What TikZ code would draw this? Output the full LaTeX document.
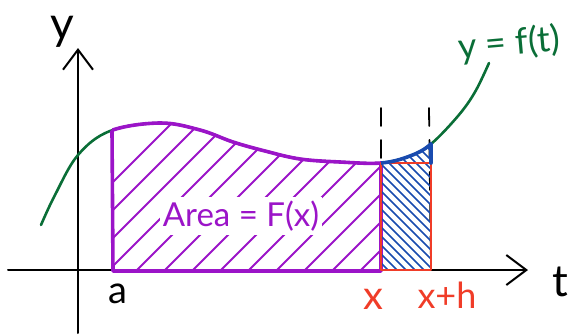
\documentclass[tikz,border=0pt]{standalone}
\usepackage{fontspec}
\setmainfont{Lato}
\usetikzlibrary{arrows.meta}
\definecolor{cgreen}{RGB}{10,110,55}
\definecolor{cpurple}{RGB}{155,20,200}
\definecolor{cblue}{RGB}{25,75,175}
\definecolor{cred}{RGB}{240,60,40}
\begin{document}
\begin{tikzpicture}[x=1pt,y=-1pt,line cap=round,line join=round,
  curve/.style={insert path={plot[smooth,tension=0.6] coordinates {(41,225) (55,195) (78,155) (110,131) (160,123) (200,130) (233,142) (265,151) (300,159) (340,162) (381,163) (410,156) (431,144) (458,116) (475,92) (489,63)}}},
  axis/.style={line width=2pt,black,-{Straight Barb[length=20pt,width=30pt,line width=2pt]}},
  hatchp/.style={cpurple,line width=1.8pt},
  hatchb/.style={cblue,line width=1.6pt},
  dashln/.style={black,line width=1.8pt,dash pattern=on 18pt off 14pt},
  lbl/.style={inner sep=0pt,font=\fontsize{34}{34}\selectfont}]
\useasboundingbox (0,0) rectangle (574,335);
% axes
\coordinate (xs) at (8,270); \coordinate (xe) at (528,270);
\coordinate (ys) at (78,333); \coordinate (ye) at (78,48);
\draw[axis] (xs) -- (xe);
\draw[axis] (ys) -- (ye);
% dashed guides
\coordinate (d1s) at (381,108); \coordinate (d1e) at (381,270);
\coordinate (d2s) at (429,108); \coordinate (d2e) at (431,270);
\draw[dashln] (d1s) -- (d1e);
\draw[dashln] (d2s) -- (d2e);
% green curve
\draw[cgreen,line width=2.6pt,curve];
% purple hatching
\begin{scope}
  \clip (112,0) rectangle (381,271);
  \clip[curve] -- (489,271) -- (41,271) -- cycle;
  \foreach \k in {0,28,...,420} \draw[hatchp] (\k+20,275) -- ++(170,-170);
\end{scope}
\node[lbl,cpurple,fill=white,inner xsep=3pt,inner ysep=4pt,font=\fontsize{33}{33}\selectfont] (area) at (241,216) {Area = F(x)};
% purple outline along curve
\begin{scope}
  \clip (112,0) rectangle (381,300);
  \draw[cpurple,line width=3.6pt,curve];
\end{scope}
\coordinate (pa) at (112,131); \coordinate (pb) at (113,271);
\coordinate (pc) at (381,271); \coordinate (pd) at (381,163);
\draw[cpurple,line width=3.6pt] (pa) -- (pb) -- (pc) -- (pd);
% blue hatching
\begin{scope}
  \clip (381,0) rectangle (431,270);
  \clip[curve] -- (489,271) -- (41,271) -- cycle;
  \foreach \k in {220,229,...,440} \draw[hatchb] (\k,120) -- ++(160,160);
\end{scope}
% red rectangle
\coordinate (r1) at (381,163); \coordinate (r2) at (431,270);
\draw[cred,line width=2.4pt] (r1) rectangle (r2);
% blue top
\begin{scope}
  \clip (381,0) rectangle (431,300);
  \draw[cblue,line width=3.6pt,curve];
\end{scope}
\coordinate (bt) at (431,144); \coordinate (bb) at (431,163);
\draw[cblue,line width=3.6pt] (bt) -- (bb);
% labels
\node[lbl,font=\fontsize{46}{46}\selectfont] (ylab) at (62,32) {y};
\node[lbl,font=\fontsize{44}{44}\selectfont] (tlab) at (560,282) {t};
\node[lbl,font=\fontsize{38}{38}\selectfont] (alab) at (118,294) {a};
\node[lbl,cred,font=\fontsize{40}{40}\selectfont] (xlab) at (373,299) {x};
\node[lbl,cred,font=\fontsize{36}{36}\selectfont] (xhlab) at (447,295) {x+h};
\node[lbl,cgreen,rotate=5,font=\fontsize{36}{36}\selectfont] (flab) at (509,44) {y = f(t)};
\end{tikzpicture}
\end{document}
